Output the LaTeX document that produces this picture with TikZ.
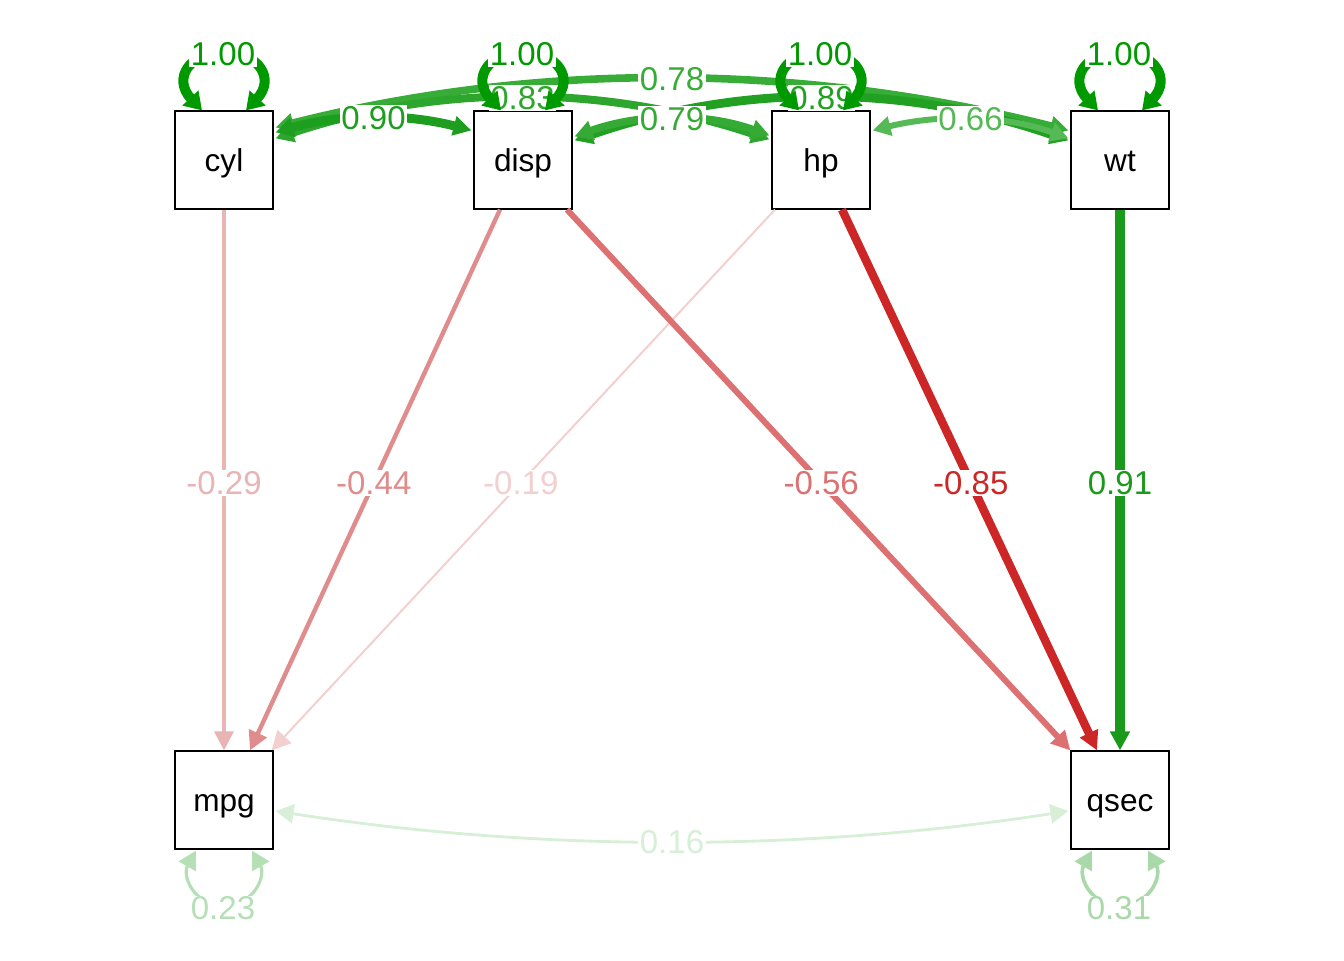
\documentclass[tikz,border=0pt]{standalone}
\usepackage{fontspec}
\setmainfont{Liberation Sans}
\usetikzlibrary{arrows.meta,calc}
\definecolor{cA}{HTML}{E9B4B4}
\definecolor{cB}{HTML}{E08C8C}
\definecolor{cC}{HTML}{F3CFCF}
\definecolor{cD}{HTML}{DD7070}
\definecolor{cE}{HTML}{CD2626}
\definecolor{cF}{HTML}{1A9A1A}
\definecolor{cOne}{HTML}{009A00}
\definecolor{cNinety}{HTML}{1E9E1E}
\definecolor{cEightNine}{HTML}{22A022}
\definecolor{cEightThree}{HTML}{2DA62D}
\definecolor{cSevenNine}{HTML}{35AB35}
\definecolor{cSevenEight}{HTML}{37AC37}
\definecolor{cSixSix}{HTML}{55BA55}
\definecolor{cTwoThree}{HTML}{B5DFB5}
\definecolor{cThreeOne}{HTML}{A9D9A9}
\definecolor{cOneSix}{HTML}{D6EFD6}
\begin{document}
\begin{tikzpicture}[x=0.5pt,y=-0.5pt,
  var/.style={draw=black,line width=0.6pt,minimum size=49pt,inner sep=0pt,text height=11.6pt,text depth=0pt,font=\fontsize{15.8}{18}\selectfont},
  lbl/.style={fill=white,inner sep=0.7pt,font=\fontsize{16.5}{19}\selectfont},
  tip/.style={-{Triangle[length=9.5pt,width=9.5pt]}},
  dtip/.style={{Triangle[length=9pt,width=9.5pt]}-{Triangle[length=9pt,width=9.5pt]}},
  ltip/.style={{Triangle[length=8.5pt,width=10.5pt]}-{Triangle[length=8.5pt,width=10.5pt]}},
]
\useasboundingbox (0,0) rectangle (1344,960);
\node[var] (cyl) at (224,160) {cyl};
\node[var] (disp) at (523,160) {disp};
\node[var] (hp) at (821,160) {hp};
\node[var] (wt) at (1120,160) {wt};
\node[var] (mpg) at (224,800) {mpg};
\node[var] (qsec) at (1120,800) {qsec};

% covariance end points
\coordinate (cylA) at ($(cyl.north east)+(2,22)$);
\coordinate (cylB) at ($(cyl.north east)+(2,28)$);
\coordinate (cylC) at ($(cyl.north east)+(2,17)$);
\coordinate (dispL) at ($(disp.north west)+(-2,20)$);
\coordinate (dispR1) at ($(disp.north east)+(2,26)$);
\coordinate (dispR2) at ($(disp.north east)+(2,30)$);
\coordinate (hpL1) at ($(hp.north west)+(-2,25)$);
\coordinate (hpL2) at ($(hp.north west)+(-2,29)$);
\coordinate (hpR) at ($(hp.north east)+(2,20)$);
\coordinate (wtL1) at ($(wt.north west)+(-2,28)$);
\coordinate (wtL2) at ($(wt.north west)+(-2,30)$);
\coordinate (wtL3) at ($(wt.north west)+(-2,20)$);
\coordinate (mpgR) at ($(mpg.east)+(2,11)$);
\coordinate (qsecL) at ($(qsec.west)+(-2,11)$);

% directed edges
\draw[tip,cA,line width=1.6pt] (cyl.south) -- (mpg.north) node[lbl,pos=0.505,text=cA]{-0.29};
\draw[tip,cB,line width=2.2pt] ($(disp.south)+(-23,0)$) -- ($(mpg.north)+(26,0)$) node[lbl,pos=0.505,text=cB]{-0.44};
\draw[tip,cC,line width=1pt] ($(hp.south)+(-46,0)$) -- ($(mpg.north east)+(-2,0)$) node[lbl,pos=0.505,text=cC]{-0.19};
\draw[tip,cD,line width=3pt] ($(disp.south)+(44,0)$) -- (qsec.north west) node[lbl,pos=0.505,text=cD]{-0.56};
\draw[tip,cE,line width=4.2pt] ($(hp.south)+(21,0)$) -- ($(qsec.north)+(-23,0)$) node[lbl,pos=0.505,text=cE]{-0.85};
\draw[tip,cF,line width=4.8pt] (wt.south) -- (qsec.north) node[lbl,pos=0.505,text=cF]{0.91};

% covariances
\draw[dtip,cSevenEight,line width=3.8pt] (cylC) .. controls +(265,-67) and +(-265,-67) .. (wtL3) node[lbl,pos=0.5,text=cSevenEight]{0.78};
\draw[dtip,cEightThree,line width=4pt] (cylB) .. controls +(165,-55) and +(-165,-55) .. (hpL2) node[lbl,pos=0.5,text=cEightThree]{0.83};
\draw[dtip,cEightNine,line width=4.4pt] (dispR2) .. controls +(165,-57) and +(-165,-57) .. (wtL2) node[lbl,pos=0.5,text=cEightNine]{0.89};
\draw[dtip,cNinety,line width=4.5pt] (cylA) .. controls +(65,-19) and +(-65,-17) .. (dispL) node[lbl,pos=0.5,text=cNinety]{0.90};
\draw[dtip,cSevenNine,line width=3.8pt] (dispR1) .. controls +(65,-23) and +(-65,-23) .. (hpL1) node[lbl,pos=0.5,text=cSevenNine]{0.79};
\draw[dtip,cSixSix,line width=3pt] (hpR) .. controls +(65,-16) and +(-65,-24) .. (wtL1) node[lbl,pos=0.5,text=cSixSix]{0.66};

% variance loops (top)
\foreach \n in {cyl,disp,hp,wt}{
  \draw[ltip,cOne,line width=5pt] ($(\n.north)+(-22,0)$) .. controls +(-30,-32) and +(-34,-2) .. ($(\n.north)+(0,-57)$) .. controls +(34,-2) and +(30,-32) .. ($(\n.north)+(22,0)$);
  \node[lbl,text=cOne] (v\n) at ($(\n.north)+(-1,-56)$) {1.00};
}
% variance loops (bottom)
\draw[dtip,cTwoThree,line width=1.6pt] ($(mpg.south)+(-28,1)$) .. controls +(-14,25) and +(-31,-2) .. ($(mpg.south)+(0,57)$) .. controls +(31,-2) and +(14,25) .. ($(mpg.south)+(28,1)$);
\node[lbl,text=cTwoThree] (vmpg) at ($(mpg.south)+(-1,59)$) {0.23};
\draw[dtip,cThreeOne,line width=1.8pt] ($(qsec.south)+(-28,1)$) .. controls +(-14,25) and +(-31,-2) .. ($(qsec.south)+(0,57)$) .. controls +(31,-2) and +(14,25) .. ($(qsec.south)+(28,1)$);
\node[lbl,text=cThreeOne] (vqsec) at ($(qsec.south)+(-1,59)$) {0.31};

\draw[dtip,cOneSix,line width=1.4pt] (mpgR) .. controls +(264,41) and +(-264,41) .. (qsecL) node[lbl,pos=0.5,text=cOneSix]{0.16};
\end{tikzpicture}
\end{document}
